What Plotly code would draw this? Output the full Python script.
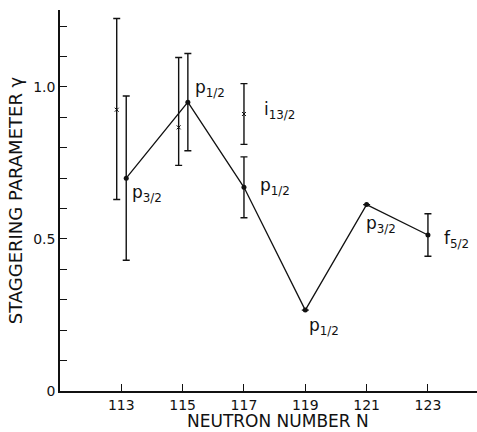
import plotly.graph_objects as go

# Staggering parameter vs neutron number (main sequence, joined by a line)
n_main = [113.16, 115.17, 117.0, 119.0, 121.0, 123.0]
gamma_main = [0.70, 0.95, 0.67, 0.266, 0.613, 0.513]
err_main = [0.27, 0.16, 0.10, 0.0, 0.0, 0.07]
labels_main = ["p<sub>3/2</sub>", "p<sub>1/2</sub>", "p<sub>1/2</sub>",
               "p<sub>1/2</sub>", "p<sub>3/2</sub>", "f<sub>5/2</sub>"]

# Alternative values (plotted with x symbols)
n_alt = [112.85, 114.87, 117.0]
gamma_alt = [0.925, 0.867, 0.911]
err_alt_plus = [0.30, 0.23, 0.10]
err_alt_minus = [0.295, 0.125, 0.10]
labels_alt = ["", "", "i<sub>13/2</sub>"]

x_ticks = [113, 115, 117, 119, 121, 123]
y_tickvals = [0, 0.5, 1.0]
y_ticktext = ["0", "0.5", "1.0"]

FONT = "DejaVu Sans"
INK = "#111111"

fig = go.Figure()

fig.add_trace(go.Scatter(
    x=n_alt, y=gamma_alt, mode="markers",
    marker=dict(symbol="x-thin", size=4, line=dict(color=INK, width=1)),
    error_y=dict(type="data", symmetric=False, array=err_alt_plus,
                 arrayminus=err_alt_minus, color=INK, thickness=1.4, width=3.5),
    showlegend=False, hoverinfo="skip",
))

fig.add_trace(go.Scatter(
    x=n_main, y=gamma_main, mode="lines+markers",
    line=dict(color=INK, width=1.3),
    marker=dict(symbol="circle", size=5, color=INK),
    error_y=dict(type="data", array=err_main, color=INK, thickness=1.4, width=3.5),
    showlegend=False, hoverinfo="skip",
))

# per-label pixel offsets from their point (xshift, yshift)
main_offsets = [(4, -15), (5, 14), (14, 1), (2, -16), (-3, -20), (14, -4)]
alt_offsets = [(0, 0), (0, 0), (18, 3)]

for n, g, t, (dx, dy) in zip(n_main, gamma_main, labels_main, main_offsets):
    fig.add_annotation(x=n, y=g, xref="x", yref="y", text=t, showarrow=False,
                       xanchor="left", yanchor="middle", xshift=dx, yshift=dy,
                       font=dict(family=FONT, size=17, color=INK))
for n, g, t, (dx, dy) in zip(n_alt, gamma_alt, labels_alt, alt_offsets):
    if t:
        fig.add_annotation(x=n, y=g, xref="x", yref="y", text=t, showarrow=False,
                           xanchor="left", yanchor="middle", xshift=dx, yshift=dy,
                           font=dict(family=FONT, size=17, color=INK))

# x-axis title
fig.add_annotation(x=0.523, y=-0.08, xref="paper", yref="paper",
                   text="NEUTRON NUMBER N", showarrow=False,
                   xanchor="center", yanchor="middle",
                   font=dict(family=FONT, size=17, color=INK))

fig.update_xaxes(
    range=[111, 124.6], tickvals=x_ticks, ticks="inside", ticklen=7,
    tickwidth=1.3, tickcolor=INK, showline=True, linecolor=INK, linewidth=1.5,
    showgrid=False, zeroline=False,
    tickfont=dict(family=FONT, size=14, color=INK),
)
fig.update_yaxes(
    range=[0, 1.253], tickvals=y_tickvals, ticktext=y_ticktext,
    ticks="inside", ticklen=7, tickwidth=1.3, tickcolor=INK,
    minor=dict(dtick=0.1, tick0=0, ticks="inside", ticklen=7,
               tickwidth=1.3, tickcolor=INK),
    showline=True, linecolor=INK, linewidth=1.5,
    showgrid=False, zeroline=False,
    tickfont=dict(family=FONT, size=14, color=INK),
    title=dict(text="STAGGERING PARAMETER \u03b3", standoff=6,
               font=dict(family=FONT, size=18, color=INK)),
)

fig.update_layout(
    width=477, height=432,
    margin=dict(l=60, r=0, t=10, b=41),
    paper_bgcolor="white", plot_bgcolor="white",
)

fig.write_html("out.html")
